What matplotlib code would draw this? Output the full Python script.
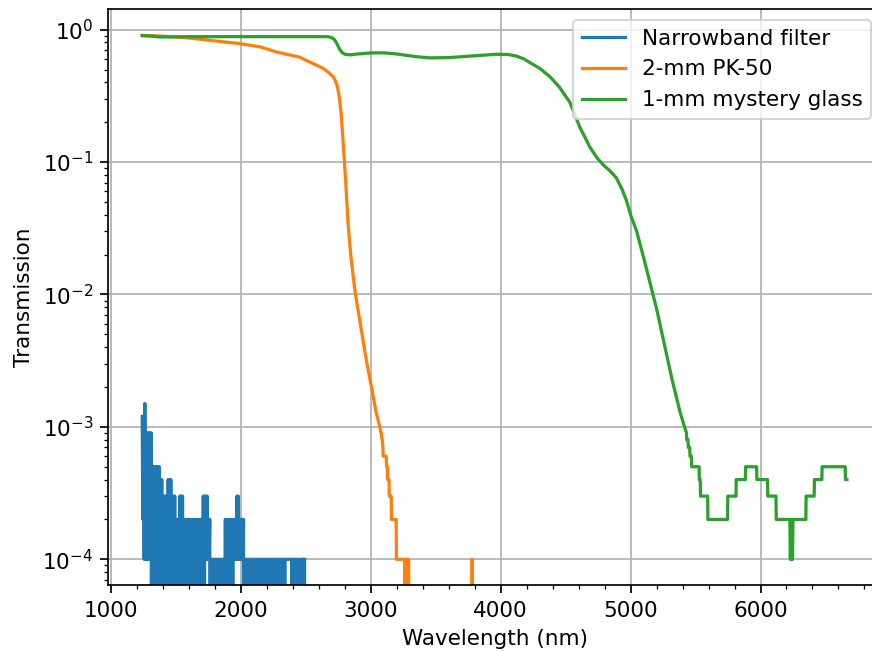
import numpy as np
import matplotlib
matplotlib.use("Agg")
import matplotlib.pyplot as plt

# =====================
# data
# =====================

# narrowband filter: one sample every 5 nm from 1240 nm,
# each character = transmission in units of 1e-4 (hex)
blue_start = 1240
blue_step = 5
blue_counts = "".join([
    "c2c1f191919191905050505050504040",
    "3030303040404030303020202030303",
    "020202020202020202020202020202030313131212",
    "01010101010101010101010202020202020212121313121212120101010",
    "10101010101010101010101010101010101010101010101010101010",
    "1111111111",
    "101010101010101010101",
])

pk50_nm = [1240, 1380, 1600, 1760, 1990, 2150, 2270, 2450, 2580, 2640,
           2685, 2715, 2740, 2755, 2770, 2785, 2797, 2810, 2825, 2845,
           2865, 2882, 2910, 2940, 2970, 3005, 3040, 3069, 3078, 3080,
           3086, 3088, 3093, 3095, 3119, 3121, 3128, 3130, 3140, 3142,
           3157, 3159, 3195, 3197, 3260, 3265, 3270, 3275, 3280, 3285,
           3290, 3295, 3300, 3775, 3780, 3785, 6665]
pk50_t = [0.905, 0.895, 0.865, 0.83, 0.785, 0.74, 0.68, 0.62, 0.54, 0.505,
          0.465, 0.435, 0.38, 0.32, 0.24, 0.15, 0.1, 0.062, 0.034, 0.02,
          0.0135, 0.01, 0.0068, 0.0045, 0.003, 0.002, 0.0013, 0.001, 0.0009, 0.0009,
          0.0008, 0.0008, 0.0007, 0.0006, 0.0006, 0.0005, 0.0005, 0.0004, 0.0004, 0.0003,
          0.0003, 0.0002, 0.0002, 0.0001, 0.0001, 0.0, 0.0001, 0.0, 0.0001, 0.0,
          0.0001, 0.0, 0.0, 0.0, 0.0001, 0.0, 0.0]

mystery_nm = [1240, 1300, 1380, 1600, 2000, 2400, 2670, 2700, 2720, 2740,
              2760, 2780, 2800, 2840, 2900, 3000, 3100, 3200, 3350, 3454,
              3600, 3800, 3967, 4060, 4121, 4180, 4223, 4300, 4380, 4450,
              4490, 4531, 4570, 4608, 4650, 4685, 4740, 4790, 4840, 4890,
              4935, 4967, 5005, 5044, 5100, 5200, 5318, 5380, 5415, 5430,
              5432, 5442, 5444, 5455, 5457, 5468, 5470, 5527, 5529, 5536,
              5538, 5593, 5595, 5746, 5748, 5811, 5813, 5883, 5885, 5970,
              5972, 6054, 6056, 6119, 6121, 6226, 6230, 6234, 6238, 6242,
              6246, 6250, 6254, 6349, 6351, 6413, 6415, 6472, 6474, 6652,
              6654, 6665]
mystery_t = [0.90, 0.895, 0.88, 0.885, 0.885, 0.885, 0.885, 0.87, 0.84, 0.78,
             0.71, 0.67, 0.652, 0.645, 0.655, 0.667, 0.668, 0.655, 0.625, 0.612,
             0.615, 0.635, 0.652, 0.648, 0.632, 0.60, 0.565, 0.51, 0.44, 0.37,
             0.324, 0.284, 0.229, 0.184, 0.153, 0.130, 0.108, 0.095, 0.086, 0.076,
             0.062, 0.0515, 0.0385, 0.0306, 0.019, 0.0078, 0.0023, 0.0013, 0.001, 0.0009,
             0.0008, 0.0008, 0.0007, 0.0007, 0.0006, 0.0006, 0.0005, 0.0005, 0.0004, 0.0004,
             0.0003, 0.0003, 0.0002, 0.0002, 0.0003, 0.0003, 0.0004, 0.0004, 0.0005, 0.0005,
             0.0004, 0.0004, 0.0003, 0.0003, 0.0002, 0.0002, 0.0001, 0.0002, 0.0001, 0.0002,
             0.0001, 0.0002, 0.0002, 0.0002, 0.0003, 0.0003, 0.0004, 0.0004, 0.0005, 0.0005,
             0.0004, 0.0004]

blue_t = [int(ch, 16) * 1e-4 for ch in blue_counts]
blue_nm = blue_start + blue_step * np.arange(len(blue_t))

# =====================
# plot
# =====================
DPI = 155
fig = plt.figure(figsize=(873 / DPI, 652 / DPI), dpi=DPI)
# right edge of the axes sits just past the image edge, as in the reference
ax = fig.add_axes([0.124, 0.102, 0.8865, 0.8839])

ax.plot(blue_nm, blue_t, label="Narrowband filter")
ax.plot(pk50_nm, pk50_t, label="2-mm PK-50")
ax.plot(mystery_nm, mystery_t, label="1-mm mystery glass")

ax.set_yscale("log")
ax.set_xlim(978.5, 6936.5)
ax.minorticks_on()
ax.grid(True)
ax.spines["right"].set_visible(False)
ax.set_xlabel("Wavelength (nm)")
ax.set_ylabel("Transmission")
ax.legend(loc="upper right")

fig.savefig("out.png", dpi=DPI)
